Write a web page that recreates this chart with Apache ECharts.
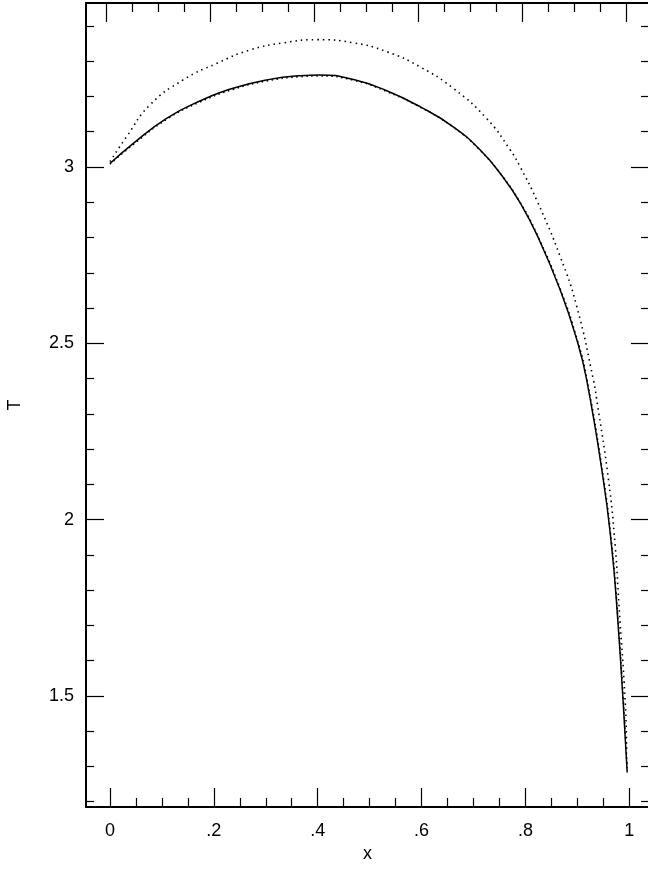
<!DOCTYPE html>
<html><head><meta charset="utf-8">
<script src="https://cdn.jsdelivr.net/npm/echarts@6/dist/echarts.min.js"></script>
<style>html,body{margin:0;padding:0;background:#fff}#c{width:648px;height:869px}</style>
</head><body><div id="c"></div>
<script>
// Solid curve
const xSolid = [0, 0.045, 0.109, 0.173, 0.237, 0.302, 0.366, 0.404, 0.469, 0.533, 0.597, 0.661, 0.713, 0.757, 0.790, 0.822, 0.867, 0.899, 0.918, 0.950, 0.966, 0.976, 0.988, 0.996];
const tSolid = [3.010, 3.067, 3.138, 3.187, 3.223, 3.247, 3.259, 3.261, 3.248, 3.216, 3.171, 3.114, 3.048, 2.971, 2.898, 2.808, 2.651, 2.510, 2.396, 2.113, 1.924, 1.754, 1.489, 1.283];
// Dotted curve lying almost on the solid one
const xDotLow = [0, 0.045, 0.109, 0.173, 0.237, 0.302, 0.366, 0.404, 0.469, 0.533, 0.597, 0.661, 0.713, 0.757, 0.790, 0.822, 0.867, 0.899, 0.918, 0.950, 0.966, 0.976, 0.988, 0.996];
const tDotLow = [3.008, 3.064, 3.135, 3.184, 3.220, 3.244, 3.256, 3.258, 3.246, 3.214, 3.170, 3.113, 3.047, 2.971, 2.899, 2.810, 2.654, 2.514, 2.401, 2.120, 1.932, 1.763, 1.500, 1.295];
// Upper dotted curve
const xDotUp = [0, 0.032, 0.077, 0.141, 0.206, 0.270, 0.334, 0.398, 0.469, 0.533, 0.597, 0.661, 0.725, 0.770, 0.790, 0.822, 0.867, 0.899, 0.931, 0.937, 0.960, 0.973, 0.980, 0.992, 0.995];
const tDotUp = [3.015, 3.086, 3.176, 3.247, 3.294, 3.332, 3.352, 3.361, 3.352, 3.327, 3.284, 3.223, 3.138, 3.050, 3.000, 2.905, 2.746, 2.604, 2.396, 2.344, 2.113, 1.924, 1.760, 1.489, 1.350];

// Tick values
const xMajorTicks = [0, 0.2, 0.4, 0.6, 0.8, 1];
const xMinorTicks = [0.05, 0.1, 0.15, 0.25, 0.3, 0.35, 0.45, 0.5, 0.55, 0.65, 0.7, 0.75, 0.85, 0.9, 0.95];
const yMajorTicks = [1.5, 2, 2.5, 3];
const yMinorTicks = [1.2, 1.3, 1.4, 1.6, 1.7, 1.8, 1.9, 2.1, 2.2, 2.3, 2.4, 2.6, 2.7, 2.8, 2.9, 3.1, 3.2, 3.3, 3.4];

const xName = 'x';
const yName = 'T';

const FONT = 'Liberation Sans, Arial, Helvetica, sans-serif';
const X_MIN = -0.0462, X_MAX = 1.038;
const XT_MIN = -0.0398, XT_MAX = 1.0429;
const Y_MIN = 1.185, Y_MAX = 3.465;

function fmt(v) {
  let s = String(Math.round(v * 1000) / 1000);
  return s.replace(/^0\./, '.');
}
function zip(xs, ys) { return xs.map((x, i) => [x, ys[i]]); }

function axis(o) {
  return Object.assign({
    type: 'value',
    splitLine: { show: false },
    axisLine: { show: false, onZero: false },
    axisTick: { show: true, inside: true, lineStyle: { color: '#000', width: 1.2 } },
    axisLabel: { show: false },
    axisPointer: { show: false }
  }, o);
}
function ticks(len, vals) {
  return { show: true, inside: true, length: len, customValues: vals, lineStyle: { color: '#000', width: 1.2 } };
}
const frameLine = { show: true, onZero: false, lineStyle: { color: '#000', width: 2 } };
const labelStyle = { color: '#000', fontSize: 18, fontFamily: FONT };

const chart = echarts.init(document.getElementById('c'), null, { renderer: 'canvas' });
const gridRect = { left: 86, top: 3, right: -1, bottom: 62, outerBoundsMode: 'none', containLabel: false };

function curve(xs, ys, style) {
  return { type: 'line', xAxisIndex: 0, yAxisIndex: 0, data: zip(xs, ys), showSymbol: false,
    smooth: 0.5, lineStyle: style, silent: true };
}

chart.setOption({
  animation: false,
  backgroundColor: '#fff',
  grid: [Object.assign({}, gridRect), Object.assign({}, gridRect)],
  xAxis: [
    axis({ gridIndex: 0, position: 'bottom', min: X_MIN, max: X_MAX,
      axisLine: frameLine, axisTick: ticks(19, xMajorTicks),
      axisLabel: Object.assign({ show: true, customValues: xMajorTicks, formatter: fmt, margin: 15 }, labelStyle),
      name: xName, nameLocation: 'middle', nameGap: 33, nameTextStyle: labelStyle }),
    axis({ gridIndex: 0, position: 'top', min: XT_MIN, max: XT_MAX,
      axisLine: frameLine, axisTick: ticks(19, xMajorTicks) }),
    axis({ gridIndex: 1, position: 'bottom', min: X_MIN, max: X_MAX, axisTick: ticks(9, xMinorTicks) }),
    axis({ gridIndex: 1, position: 'top', min: XT_MIN, max: XT_MAX, axisTick: ticks(9, xMinorTicks) })
  ],
  yAxis: [
    axis({ gridIndex: 0, position: 'left', min: Y_MIN, max: Y_MAX,
      axisLine: frameLine, axisTick: ticks(18, yMajorTicks),
      axisLabel: Object.assign({ show: true, customValues: yMajorTicks, formatter: fmt, margin: 12 }, labelStyle),
      name: yName, nameLocation: 'middle', nameGap: 62, nameRotate: 90, nameTextStyle: labelStyle }),
    axis({ gridIndex: 0, position: 'right', min: Y_MIN, max: Y_MAX,
      axisLine: frameLine, axisTick: ticks(18, yMajorTicks) }),
    axis({ gridIndex: 1, position: 'left', min: Y_MIN, max: Y_MAX, axisTick: ticks(8, yMinorTicks) }),
    axis({ gridIndex: 1, position: 'right', min: Y_MIN, max: Y_MAX, axisTick: ticks(8, yMinorTicks) })
  ],
  series: [
    curve(xDotLow, tDotLow, { color: '#000', width: 1.6, type: [1.5, 3.5] }),
    curve(xSolid, tSolid, { color: '#000', width: 1.5 }),
    curve(xDotUp, tDotUp, { color: '#000', width: 1.6, type: [1.5, 4] })
  ]
});
</script>
</body></html>
